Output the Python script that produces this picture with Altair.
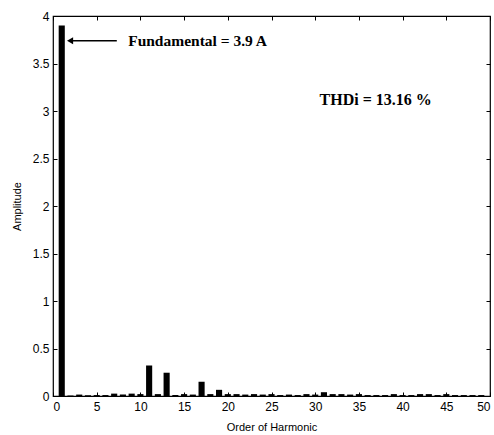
import altair as alt
import pandas as pd

# Harmonic spectrum of the line current
harmonic = list(range(1, 51))
amplitude = [
    3.90, 0.005, 0.015, 0.008, 0.010, 0.010, 0.025, 0.015, 0.025, 0.020,
    0.320, 0.020, 0.245, 0.010, 0.020, 0.015, 0.150, 0.020, 0.065, 0.020,
    0.020, 0.015, 0.020, 0.015, 0.020, 0.010, 0.015, 0.010, 0.020, 0.015,
    0.040, 0.020, 0.020, 0.015, 0.020, 0.010, 0.010, 0.010, 0.020, 0.010,
    0.010, 0.020, 0.020, 0.010, 0.020, 0.010, 0.010, 0.010, 0.010, 0.000,
]

# Annotation text and anchor points (data units)
fund_label = ["Fundamental = 3.9 A"]
fund_label_x = [8.6]
fund_label_y = [3.74]
arrow_x = [1.95]
arrow_x2 = [7.3]
thd_label = ["THDi = 13.16 %"]
thd_x = [30.5]
thd_y = [3.12]

df = pd.DataFrame({"h": harmonic, "amp": amplitude})

W, H = 437, 380
xscale = alt.Scale(domain=[0, 50], nice=False, zero=False)
yscale = alt.Scale(domain=[0, 4], nice=False)
label_font = "Liberation Sans"
xticks = list(range(0, 51, 5))
yticks = [i * 0.5 for i in range(9)]

base = alt.Chart(df)

bars = base.transform_calculate(
    x0="datum.h - 0.35", x1="datum.h + 0.35"
).mark_rect(color="black").encode(
    x=alt.X("x0:Q", scale=xscale,
            axis=alt.Axis(values=xticks, ticks=False, domain=False, grid=False,
                          format="~g",
                          labelFont=label_font, labelFontSize=12, labelColor="black",
                          labelPadding=5, title="Order of Harmonic",
                          titleFont=label_font, titleFontSize=11,
                          titleFontWeight="normal", titleColor="black",
                          titlePadding=9)),
    x2="x1:Q",
    y=alt.Y("amp:Q", scale=yscale,
            axis=alt.Axis(values=yticks, ticks=False, domain=False, grid=False,
                          format="~g",
                          labelFont=label_font, labelFontSize=12, labelColor="black",
                          labelPadding=4, title="Amplitude",
                          titleFont=label_font, titleFontSize=11,
                          titleFontWeight="normal", titleColor="black",
                          titlePadding=10)),
)


def tick_layer(xorient, yorient):
    return base.mark_point(opacity=0).encode(
        x=alt.X("h:Q", scale=xscale,
                axis=alt.Axis(orient=xorient, values=xticks, labels=False,
                              domain=False, grid=False, tickSize=4, offset=-4,
                              tickColor="black", title=None)),
        y=alt.Y("amp:Q", scale=yscale,
                axis=alt.Axis(orient=yorient, values=yticks, labels=False,
                              domain=False, grid=False, tickSize=4, offset=-4,
                              tickColor="black", title=None)),
    )


inner_ticks_a = tick_layer("bottom", "left")
inner_ticks_b = tick_layer("top", "right")

ann = pd.DataFrame({
    "t": fund_label, "x": fund_label_x, "y": fund_label_y,
    "ax": arrow_x, "ax2": arrow_x2,
})
thd = pd.DataFrame({"t": thd_label, "x": thd_x, "y": thd_y})

arrow_line = alt.Chart(ann).mark_rule(color="black", strokeWidth=1.5).encode(
    x=alt.X("ax:Q", scale=xscale, axis=None),
    x2="ax2:Q",
    y=alt.Y("y:Q", scale=yscale, axis=None),
)
arrow_head = alt.Chart(ann).mark_point(
    shape="triangle-left", filled=True, color="black", size=50, opacity=1
).encode(
    x=alt.X("ax:Q", scale=xscale, axis=None),
    y=alt.Y("y:Q", scale=yscale, axis=None),
)
fund_text = alt.Chart(ann).mark_text(
    align="left", baseline="middle", font="Liberation Serif",
    fontSize=15.5, fontWeight="bold", color="black"
).encode(
    x=alt.X("x:Q", scale=xscale, axis=None),
    y=alt.Y("y:Q", scale=yscale, axis=None),
    text="t:N",
)
thd_text = alt.Chart(thd).mark_text(
    align="left", baseline="middle", font="Liberation Serif",
    fontSize=16, fontWeight="bold", color="black"
).encode(
    x=alt.X("x:Q", scale=xscale, axis=None),
    y=alt.Y("y:Q", scale=yscale, axis=None),
    text="t:N",
)

chart = alt.layer(
    bars, inner_ticks_a, inner_ticks_b, arrow_line, arrow_head, fund_text, thd_text
).resolve_axis(
    x="independent", y="independent"
).properties(
    width=W, height=H,
    autosize=alt.AutoSizeParams(type="none"),
    padding={"left": 53, "top": 16, "right": 4, "bottom": 39},
    background="white",
).configure_view(
    stroke="black", strokeWidth=1.2
)

chart.save("out.html", embed_options={"renderer": "svg", "actions": False})
